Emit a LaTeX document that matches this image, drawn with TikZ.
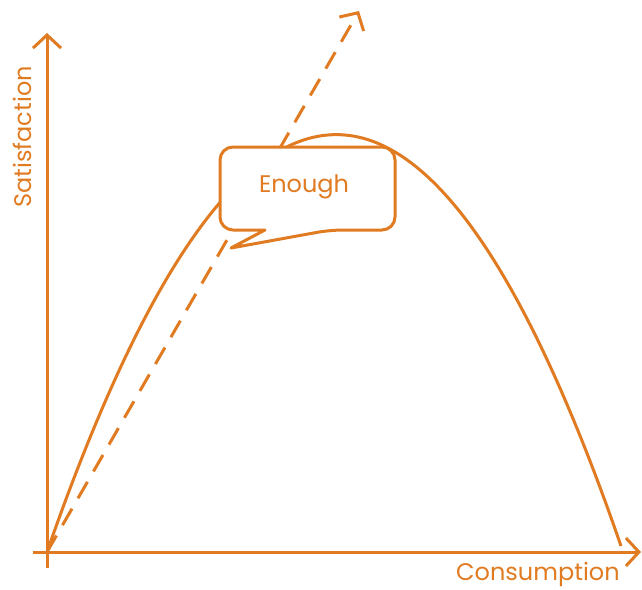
\documentclass[tikz,border=0pt]{standalone}
\usepackage{fontspec}
\setmainfont{Poppins}
\usetikzlibrary{arrows.meta}
\definecolor{org}{RGB}{224,123,34}
\begin{document}
\begin{tikzpicture}[x=1pt,y=-1pt,
  line/.style={draw=org,line width=3pt},
  chev/.style={-{Straight Barb[length=13pt,width=28pt,line width=3pt]}},
  lbl/.style={text=org,font=\fontsize{24}{28}\selectfont,inner sep=0pt}]
\useasboundingbox (0,0) rectangle (642,589);
\coordinate (o) at (47,552);
\coordinate (ybot) at (47,568);
\coordinate (ytop) at (47,33);
\coordinate (xleft) at (33,552);
\coordinate (xright) at (641,552);
\coordinate (dtop) at (359,11);
\coordinate (cend) at (621,546);
% axes
\draw[line,chev] (ybot) -- (ytop);
\draw[line,chev] (xleft) -- (xright);
% curve
\draw[line] (o) .. controls (240,-2) and (431,-5) .. (cend);
% dashed
\draw[line,chev,dash pattern=on 19pt off 12pt] (o) -- (dtop);
% callout
\draw[line,fill=white,line join=round] (231,248) -- (265,230) [rounded corners=13pt] -- (220,230) -- (220,147) -- (395,147) -- (395,230) -- (330,230) [sharp corners] -- cycle;
\node[lbl] (enough) at (304,187) {Enough};
\node[lbl,anchor=base west] (cons) at (456,580) {Consumption};
\node[lbl,anchor=base,rotate=90] (sat) at (31,137) {Satisfaction};
\end{tikzpicture}
\end{document}
